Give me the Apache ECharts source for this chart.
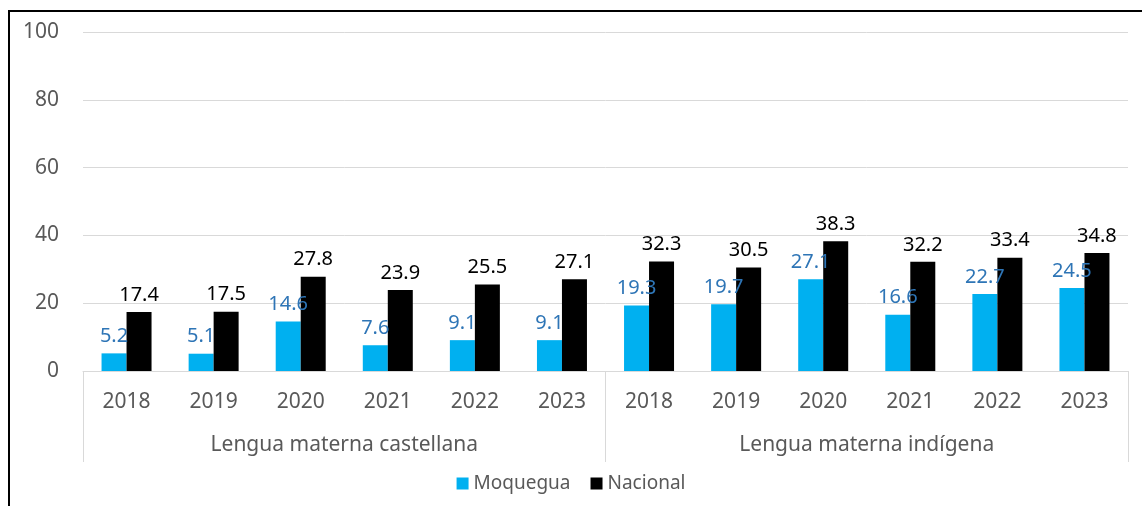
<!DOCTYPE html>
<html>
<head>
    <meta charset="UTF-8"/>
    <script src="https://cdn.jsdelivr.net/npm/echarts@6/dist/echarts.min.js"></script>
    <title>Moquegua vs Nacional</title>
    <style>
        body { margin: 0; background: #fff; }
        #main { width: 1142px; height: 506px; }
    </style>
</head>
<body>
<div id="main"></div>
<script type="text/javascript">
    // datos
    var years = ['2018', '2019', '2020', '2021', '2022', '2023',
                 '2018', '2019', '2020', '2021', '2022', '2023'];
    var groups = ['Lengua materna castellana', 'Lengua materna indígena'];
    var moquegua = [5.2, 5.1, 14.6, 7.6, 9.1, 9.1, 19.3, 19.7, 27.1, 16.6, 22.7, 24.5];
    var nacional = [17.4, 17.5, 27.8, 23.9, 25.5, 27.1, 32.3, 30.5, 38.3, 32.2, 33.4, 34.8];

    var font = 'Noto Sans';
    var gray = '#595959';
    var lineGray = '#d9d9d9';

    var myChart = echarts.init(document.getElementById('main'));
    var option = {
        animation: false,
        textStyle: {fontFamily: font},
        grid: {left: 83, right: 14, top: 32, bottom: 135},
        legend: {
            bottom: 8,
            left: 'center',
            itemWidth: 12,
            itemHeight: 12,
            itemGap: 20,
            icon: 'rect',
            textStyle: {fontFamily: font, fontSize: 19, color: gray},
            data: ['Moquegua', 'Nacional']
        },
        graphic: [{
            type: 'polyline',
            shape: {points: [[9, 506], [9, 11], [1142, 11]]},
            style: {stroke: '#000', lineWidth: 2, fill: null},
            silent: true
        }],
        xAxis: [
            {
                type: 'category',
                data: years,
                axisLine: {lineStyle: {color: lineGray}},
                axisTick: {show: false},
                axisLabel: {fontSize: 21, color: gray, margin: 21, fontFamily: font}
            },
            {
                type: 'category',
                data: groups,
                position: 'bottom',
                axisLine: {show: false},
                axisTick: {show: true, length: 91, lineStyle: {color: lineGray}},
                axisLabel: {fontSize: 21, color: gray, margin: 64, fontFamily: font},
                splitLine: {show: false}
            }
        ],
        yAxis: {
            type: 'value',
            min: 0,
            max: 100,
            interval: 20,
            axisLine: {show: false},
            axisTick: {show: false},
            axisLabel: {fontSize: 21, color: gray, margin: 24, fontFamily: font},
            splitLine: {lineStyle: {color: lineGray}}
        },
        series: [
            {
                name: 'Moquegua',
                type: 'bar',
                data: moquegua,
                barWidth: 25,
                barGap: '0%',
                itemStyle: {color: '#00b0f0'},
                label: {show: true, position: 'top', distance: 7, fontSize: 20,
                        color: '#2e75b6', fontFamily: font}
            },
            {
                name: 'Nacional',
                type: 'bar',
                data: nacional,
                barWidth: 25,
                barGap: '0%',
                itemStyle: {color: '#000000'},
                label: {show: true, position: 'top', distance: 7, fontSize: 20,
                        color: '#000000', fontFamily: font}
            }
        ]
    };
    myChart.setOption(option);
</script>
</body>
</html>
